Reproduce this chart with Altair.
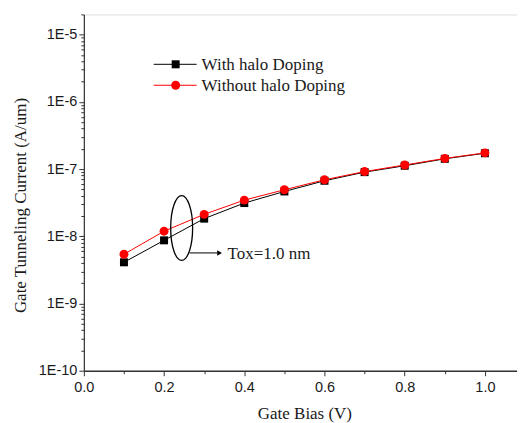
import altair as alt
import pandas as pd

# data
gate_bias = [0.1, 0.2, 0.3, 0.4, 0.5, 0.6, 0.7, 0.8, 0.9, 1.0]
with_halo = [4.1e-9, 8.7e-9, 1.83e-8, 3.12e-8, 4.64e-8, 6.7e-8, 9.0e-8, 1.12e-7, 1.42e-7, 1.72e-7]
without_halo = [5.4e-9, 1.19e-8, 2.12e-8, 3.45e-8, 4.92e-8, 6.92e-8, 9.18e-8, 1.15e-7, 1.44e-7, 1.74e-7]
series_names = ["With halo Doping", "Without halo Doping"]
annotation_text = "Tox=1.0 nm"

decades = [1e-10, 1e-9, 1e-8, 1e-7, 1e-6, 1e-5]
minor_mult = [1, 2, 3, 4, 5, 6, 7, 8, 9]
y_ticks = [m * d for d in decades for m in minor_mult] + [2e-5]
x_ticks = [0.0, 0.1, 0.2, 0.3, 0.4, 0.5, 0.6, 0.7, 0.8, 0.9, 1.0]

df_with = pd.DataFrame({"x": gate_bias, "y": with_halo})
df_without = pd.DataFrame({"x": gate_bias, "y": without_halo})

SERIF = "Liberation Serif"
SANS = "Liberation Sans"
INK = "#1a1a1a"

is_decade = "abs(log(datum.value)/LN10 - round(log(datum.value)/LN10)) < 1e-6"
is_even = "round(datum.value*10) % 2 == 0"

xenc = alt.X(
    "x:Q",
    scale=alt.Scale(domain=[0, 1.08], nice=False, zero=False),
    axis=alt.Axis(
        title="Gate Bias (V)",
        values=x_ticks,
        labelExpr=f"{is_even} ? format(datum.value, '.1f') : ''",
        tickSize={"condition": {"test": is_even, "value": 5}, "value": 3},
        grid=False,
        labelFont=SANS, labelFontSize=14.5, labelColor=INK, labelPadding=5,
        titleFont=SERIF, titleFontSize=17, titleFontWeight="normal", titleColor=INK,
        titlePadding=11, titleX=221,
        domainColor="#333", domainWidth=1.6, tickColor="#333", tickWidth=1,
        labelOverlap=False, labelFlush=False,
    ),
)
yenc = alt.Y(
    "y:Q",
    scale=alt.Scale(type="log", domain=[1e-10, 2e-5], nice=False),
    axis=alt.Axis(
        title="Gate Tunneling Current (A/um)",
        values=y_ticks,
        labelExpr=f"{is_decade} ? '1E' + round(log(datum.value)/LN10) : ''",
        tickSize={"condition": {"test": is_decade, "value": 5}, "value": 3},
        grid=False,
        labelFont=SANS, labelFontSize=14.5, labelColor=INK, labelPadding=2,
        titleFont=SERIF, titleFontSize=17, titleFontWeight="normal", titleColor=INK,
        titlePadding=9, titleY=191,
        domainColor="#333", domainWidth=1.2, tickColor="#333", tickWidth=1,
        labelOverlap=False, labelFlush=False,
    ),
)

line_with = alt.Chart(df_with).mark_line(color="black", strokeWidth=1).encode(x=xenc, y=yenc)
pts_with = alt.Chart(df_with).mark_point(shape="square", filled=True, color="black", size=64, opacity=1).encode(x="x:Q", y="y:Q")
line_without = alt.Chart(df_without).mark_line(color="red", strokeWidth=1).encode(x="x:Q", y="y:Q")
pts_without = alt.Chart(df_without).mark_point(shape="circle", filled=True, color="red", size=80, opacity=1).encode(x="x:Q", y="y:Q")

# legend (drawn manually, Origin style)
leg = []
for i, (name, col, shp, sz) in enumerate(zip(series_names, ["black", "red"], ["square", "circle"], [64, 80])):
    yy = 50 + 21 * i
    base = alt.Chart(pd.DataFrame({"label": [name]}))
    leg.append(base.mark_rule(color=col, strokeWidth=1).encode(x=alt.value(70), x2=alt.value(113), y=alt.value(yy)))
    leg.append(base.mark_point(shape=shp, filled=True, color=col, size=sz, opacity=1).encode(x=alt.value(92), y=alt.value(yy)))
    leg.append(base.mark_text(align="left", baseline="middle", font=SERIF, fontSize=17, color=INK).encode(
        x=alt.value(118), y=alt.value(yy + 1), text="label:N"))

# ellipse + arrow annotation
ann = alt.Chart(pd.DataFrame({"t": [annotation_text]}))
ellipse = ann.mark_point(
    shape="M0,-1 A0.338,1 0 1,1 0,1 A0.338,1 0 1,1 0,-1 Z",
    filled=False, color="black", strokeWidth=1.3, size=4225, opacity=1,
).encode(x=alt.value(98), y=alt.value(214))
arrow = ann.mark_rule(color="black", strokeWidth=1).encode(x=alt.value(106), x2=alt.value(134), y=alt.value(239))
head = ann.mark_point(shape="triangle-right", filled=True, color="black", size=30, opacity=1).encode(x=alt.value(136), y=alt.value(239))
txt = ann.mark_text(align="left", baseline="middle", font=SERIF, fontSize=17, color=INK).encode(
    x=alt.value(144), y=alt.value(240), text="t:N")

chart = alt.layer(
    line_with, line_without, pts_with, pts_without, *leg, ellipse, arrow, head, txt
).properties(
    width=434, height=357,
    autosize=alt.AutoSizeParams(type="none"),
    padding={"left": 76, "top": 6, "right": 0, "bottom": 60},
).configure_view(stroke=None).configure(background="white")

chart.save("out.html", embed_options={"renderer": "svg", "actions": False})
